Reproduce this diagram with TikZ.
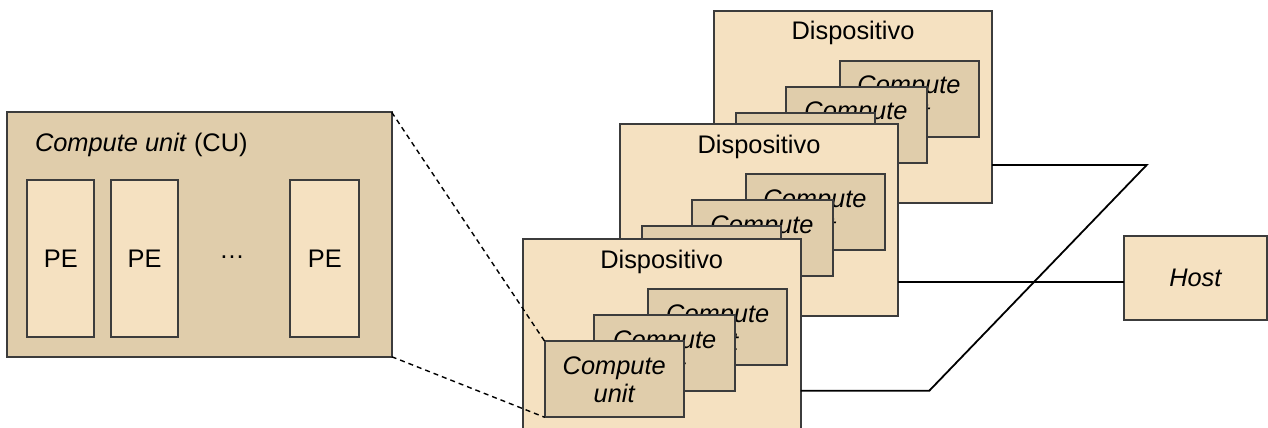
\documentclass[tikz,border=0pt]{standalone}
\usepackage{fontspec}
\setmainfont{Liberation Sans}
\definecolor{lite}{HTML}{F5E1C1}
\definecolor{dark}{HTML}{E0CDAB}
\definecolor{edge}{HTML}{3C3C3C}
\begin{document}
\begin{tikzpicture}[x=1pt,y=-1pt,
  every node/.style={inner sep=0pt, outer sep=0pt},
  txt/.style={font=\fontsize{25.4}{28}\selectfont},
  box/.style={draw=edge, line width=2pt, anchor=north west},
  dev/.style={box, fill=lite, minimum width=278pt, minimum height=192pt},
  cu/.style={box, fill=dark, minimum width=139pt, minimum height=76pt,
    txt, align=center, font=\fontsize{25.4}{28}\selectfont\itshape},
  pe/.style={box, fill=lite, minimum height=156.7pt, txt},
  wire/.style={draw=black, line width=1.8pt},
  zoomline/.style={draw=black, line width=1.4pt, dash pattern=on 5pt off 4pt}]
\useasboundingbox (0,0) rectangle (1268,428);
\clip (0,0) rectangle (1268,428);

% three devices, back to front, each holding three compute units
\foreach \n/\x/\y in {3/714/10.7, 2/620/124.3, 1/522.7/239.3} {
  \node[dev] (d\n) at (\x,\y) {};
  \node[txt, anchor=base] (d\n t) at ([yshift=-29pt]d\n.north) {Dispositivo};
  \node[cu] (d\n a) at ([xshift=125.5pt,yshift=-50pt]d\n.north west) {Compute\\unit};
  \node[cu, minimum width=141pt] (d\n b) at ([xshift=71.5pt,yshift=-76pt]d\n.north west) {Compute\\unit};
  \node[cu] (d\n c) at ([xshift=22pt,yshift=-102pt]d\n.north west) {Compute\\unit};
}

% host
\node[box, fill=lite, minimum width=142.7pt, minimum height=84pt, txt]
  (host) at (1124,236) {\itshape Host};

% links between the devices and the host
\coordinate (k1) at (1146.7,165);
\coordinate (k2) at (929.3,390.7);
\coordinate (k3) at (1000,281.7);
\draw[wire] (d3.east |- k1) -- (k1) -- (k2) -- (d1.east |- k2);
\draw[wire] (d2.east |- k3) -- (host.west |- k3);

% enlarged compute unit with its processing elements
\node[box, fill=dark, minimum width=384.4pt, minimum height=244.4pt] (cu) at (7.3,112.3) {};
\node[txt, anchor=base west] (cut) at (35,151.7) {\textit{Compute unit} (CU)};
\node[pe, minimum width=67pt] (pe1) at (27.3,180) {PE};
\node[pe, minimum width=67.3pt] (pe2) at (111,180) {PE};
\node[pe, minimum width=69pt] (pe3) at (290.3,180) {PE};
\node[txt, anchor=base] (dots) at (232,258) {…};

% zoom guides
\draw[zoomline] (cu.north east) -- (d1c.north west);
\draw[zoomline] (cu.south east) -- (d1c.south west);
\end{tikzpicture}
\end{document}
